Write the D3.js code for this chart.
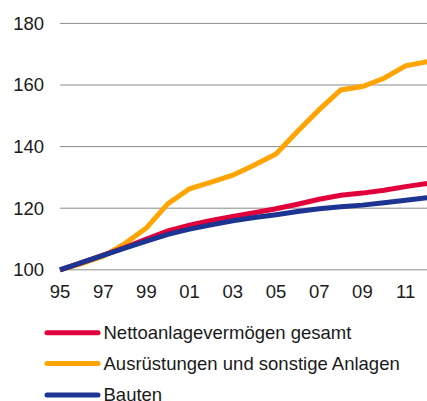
<!DOCTYPE html>
<html>
<head>
<meta charset="utf-8">
<script src="https://cdn.jsdelivr.net/npm/d3@7"></script>
<style>
  body { margin: 0; background: #fff; }
  svg { display: block; }
</style>
</head>
<body>
<div id="chart"></div>
<script>
"use strict";

// Data (Index 1995 = 100)
var years = d3.range(1995, 2013);
var tickYears = [1995, 1997, 1999, 2001, 2003, 2005, 2007, 2009, 2011];
var yTicks = [100, 120, 140, 160, 180];

var netto = [100, 102.3, 104.8, 107.2, 110.0, 112.6, 114.5, 116.0, 117.3, 118.5, 119.8, 121.3, 122.9, 124.2, 124.9, 125.8, 127.0, 128.0];
var ausruestungen = [100, 102.0, 104.4, 108.5, 113.6, 121.5, 126.3, 128.5, 130.7, 134.0, 137.6, 145.0, 152.0, 158.4, 159.5, 162.2, 166.2, 167.6];
var bauten = [100, 102.3, 104.7, 107.0, 109.3, 111.5, 113.2, 114.6, 115.9, 117.0, 117.9, 118.9, 119.8, 120.5, 121.0, 121.8, 122.6, 123.4];

var seriesNames = ["Nettoanlagevermögen gesamt", "Ausrüstungen und sonstige Anlagen", "Bauten"];
var seriesColors = ["#e2003c", "#ffa400", "#1d3592"];

function renderChart(el) {
  el.innerHTML = "";

  var width = 427, height = 401;
  var fontSize = "18.5px";
  var svg = d3.select(el).append("svg")
    .attr("width", width)
    .attr("height", height);

  var x = d3.scaleLinear().domain([1995, 2012]).range([60, 427.2]);
  var y = d3.scaleLinear().domain([100, 180]).range([269.8, 23.4]);

  // Gridlines
  svg.append("g")
    .selectAll("line")
    .data(yTicks)
    .join("line")
    .attr("x1", 60)
    .attr("x2", width)
    .attr("y1", d => y(d))
    .attr("y2", d => y(d))
    .attr("stroke", "#8a8a8a")
    .attr("stroke-width", 1);

  // Y axis labels
  svg.append("g")
    .selectAll("text")
    .data(yTicks)
    .join("text")
    .attr("x", 44)
    .attr("y", d => y(d))
    .attr("dy", "0.35em")
    .attr("text-anchor", "end")
    .attr("font-family", "Liberation Sans, Arial, sans-serif")
    .attr("font-size", fontSize)
    .attr("fill", "#1a1a1a")
    .text(d => d);

  // X axis labels
  svg.append("g")
    .selectAll("text")
    .data(tickYears)
    .join("text")
    .attr("x", d => x(d))
    .attr("y", 292)
    .attr("dy", "0.35em")
    .attr("text-anchor", "middle")
    .attr("font-family", "Liberation Sans, Arial, sans-serif")
    .attr("font-size", fontSize)
    .attr("fill", "#1a1a1a")
    .text(d => String(d % 100).padStart(2, "0"));

  var line = d3.line()
    .x((d, i) => x(years[i]))
    .y(d => y(d));

  // Lines: orange below, then red, blue on top
  var drawOrder = [
    { values: ausruestungen, color: seriesColors[1] },
    { values: netto, color: seriesColors[0] },
    { values: bauten, color: seriesColors[2] }
  ];

  svg.append("g")
    .selectAll("path")
    .data(drawOrder)
    .join("path")
    .attr("d", d => line(d.values))
    .attr("fill", "none")
    .attr("stroke", d => d.color)
    .attr("stroke-width", 5);

  // Legend
  var legend = svg.append("g");
  var legendY = [332.7, 363.5, 395];
  seriesNames.forEach(function(name, i) {
    legend.append("line")
      .attr("x1", 47)
      .attr("x2", 98)
      .attr("y1", legendY[i])
      .attr("y2", legendY[i])
      .attr("stroke", seriesColors[i])
      .attr("stroke-width", 5)
      .attr("stroke-linecap", "round");

    legend.append("text")
      .attr("x", 103.5)
      .attr("y", legendY[i])
      .attr("dy", "0.35em")
      .attr("font-family", "Liberation Sans, Arial, sans-serif")
      .attr("font-size", fontSize)
      .attr("fill", "#1a1a1a")
      .text(name);
  });

  return svg;
}

renderChart(document.getElementById("chart"));
</script>
</body>
</html>
